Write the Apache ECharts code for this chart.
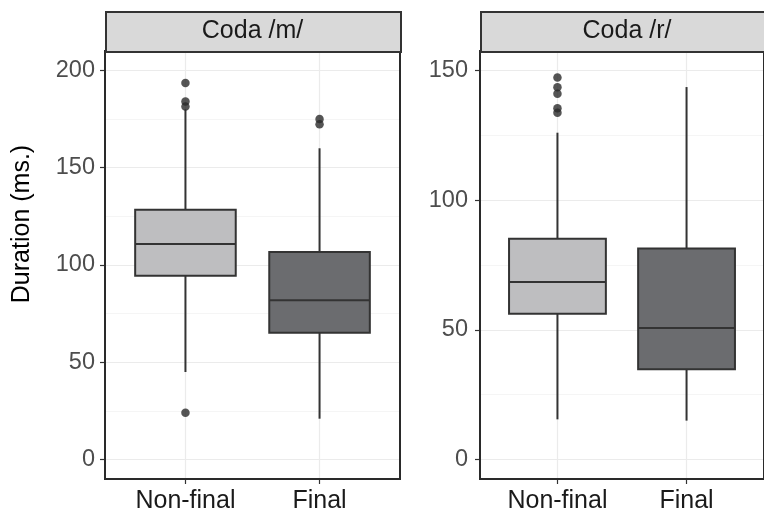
<!DOCTYPE html>
<html>
<head>
<meta charset="utf-8">
<script src="https://cdn.jsdelivr.net/npm/echarts@6/dist/echarts.min.js"></script>
<style>html,body{margin:0;padding:0;background:#fff}#c{width:764px;height:517px}</style>
</head>
<body>
<div id="c"></div>
<script>
// ---- data ----
const categories = ['Non-final', 'Final'];
const panels = ['Coda /m/', 'Coda /r/'];
const yTitle = 'Duration (ms.)';
// [lowerWhisker, Q1, median, Q3, upperWhisker]
const boxM = [
  [45, 94.5, 110.8, 128.4, 180],
  [21, 65.2, 81.9, 106.7, 160]
];
const boxR = [
  [15.5, 56.2, 68.4, 85.1, 126],
  [15, 34.8, 50.7, 81.4, 143.6]
];
const outM = [
  [193.6, 184, 181.5, 24.1],
  [175, 172.4]
];
const outR = [
  [147.3, 143.5, 141, 135.4, 133.7],
  []
];
const yTicksM = [0, 50, 100, 150, 200];
const yMinorM = [25, 75, 125, 175];
const yTicksR = [0, 50, 100, 150];
const yMinorR = [25, 75, 125];
const fills = ['#BEBEC0', '#6B6C6F'];

const FONT = 'Liberation Sans, Arial, sans-serif';
const chart = echarts.init(document.getElementById('c'), null, {renderer: 'canvas'});

const gridDefs = [
  {left: 105, top: 51, width: 295, height: 428},
  {left: 480, top: 51, width: 294, height: 428}
];

function boxData(b) {
  return b.map((v, i) => [i + 1].concat(v).concat([i]));
}
function outData(o) {
  const res = [];
  o.forEach((arr, i) => arr.forEach(v => res.push([i + 1, v])));
  return res;
}

function renderBox(params, api) {
  const x = api.value(0);
  const lo = api.coord([x, api.value(1)]);
  const q1 = api.coord([x, api.value(2)]);
  const md = api.coord([x, api.value(3)]);
  const q3 = api.coord([x, api.value(4)]);
  const hi = api.coord([x, api.value(5)]);
  const hw = api.size([0.75, 0])[0] / 2;
  const fill = fills[api.value(6)];
  const ls = {stroke: '#333333', lineWidth: 2};
  return {
    type: 'group',
    children: [
      {type: 'line', shape: {x1: lo[0], y1: lo[1], x2: lo[0], y2: q1[1]}, style: ls},
      {type: 'line', shape: {x1: hi[0], y1: hi[1], x2: hi[0], y2: q3[1]}, style: ls},
      {type: 'rect', shape: {x: q1[0] - hw, y: q3[1], width: 2 * hw, height: q1[1] - q3[1]},
        style: {fill: fill, stroke: '#333333', lineWidth: 2}},
      {type: 'line', shape: {x1: md[0] - hw, y1: md[1], x2: md[0] + hw, y2: md[1]}, style: ls}
    ]
  };
}

const ySpecs = [
  {min: -10, max: 210, ticks: yTicksM, minor: yMinorM},
  {min: -7.5, max: 157.5, ticks: yTicksR, minor: yMinorR}
];

const xAxes = [], yAxes = [], series = [], graphics = [];
gridDefs.forEach((g, p) => {
  xAxes.push({
    type: 'value', gridIndex: p, min: 0.4, max: 2.6, position: 'bottom',
    axisLine: {show: false, onZero: false},
    axisTick: {show: true, length: 5, lineStyle: {color: '#333333', width: 1.2}, customValues: [1, 2]},
    axisLabel: {customValues: [1, 2], formatter: v => categories[Math.round(v) - 1] || '',
      fontSize: 25, color: '#1a1a1a', fontFamily: FONT, margin: 10},
    splitLine: {show: true, lineStyle: {color: '#ebebeb', width: 1.2}}
  });
  const s = ySpecs[p];
  yAxes.push({
    type: 'value', gridIndex: p, min: s.min, max: s.max, position: 'left',
    axisLine: {show: false, onZero: false},
    axisTick: {show: true, length: 5, lineStyle: {color: '#333333', width: 1.2}, customValues: s.ticks},
    axisLabel: {customValues: s.ticks, fontSize: 23.5, color: '#4d4d4d', fontFamily: FONT, margin: p === 0 ? 10 : 12},
    splitLine: {show: true, lineStyle: {color: '#ebebeb', width: 1.2}}
  });
  yAxes.push({
    type: 'value', gridIndex: p, min: s.min, max: s.max, position: 'left',
    axisLine: {show: false, onZero: false},
    axisTick: {show: false, customValues: s.minor},
    axisLabel: {show: false, customValues: s.minor},
    splitLine: {show: true, lineStyle: {color: '#f3f3f3', width: 0.8}}
  });
  series.push({
    type: 'custom', xAxisIndex: p, yAxisIndex: 2 * p,
    data: boxData(p === 0 ? boxM : boxR),
    encode: {x: 0, y: [1, 2, 3, 4, 5]},
    renderItem: renderBox, z: 3
  });
  series.push({
    type: 'scatter', xAxisIndex: p, yAxisIndex: 2 * p,
    data: outData(p === 0 ? outM : outR),
    symbolSize: 8.5, itemStyle: {color: '#2b2b2b'}, z: 4
  });
  graphics.push({
    type: 'rect', left: g.left, top: 11,
    shape: {width: g.width, height: 40},
    style: {fill: '#d9d9d9', stroke: '#333333', lineWidth: 2}, z: 10
  });
  graphics.push({
    type: 'text', x: g.left + g.width / 2, y: 31,
    style: {text: panels[p], fill: '#1a1a1a', font: '25px ' + FONT, align: 'center', verticalAlign: 'middle'}, z: 11
  });
});

graphics.push({
  type: 'text', x: 22, y: 224, rotation: Math.PI / 2,
  style: {text: yTitle, fill: '#000000', font: '25px ' + FONT, align: 'center', verticalAlign: 'middle'}, z: 11
});

chart.setOption({
  animation: false,
  backgroundColor: '#ffffff',
  grid: gridDefs.map(g => Object.assign({show: true, borderColor: '#2a2a2a', borderWidth: 2, backgroundColor: 'transparent', z: 5}, g)),
  xAxis: xAxes,
  yAxis: yAxes,
  series: series,
  graphic: graphics
});
</script>
</body>
</html>
